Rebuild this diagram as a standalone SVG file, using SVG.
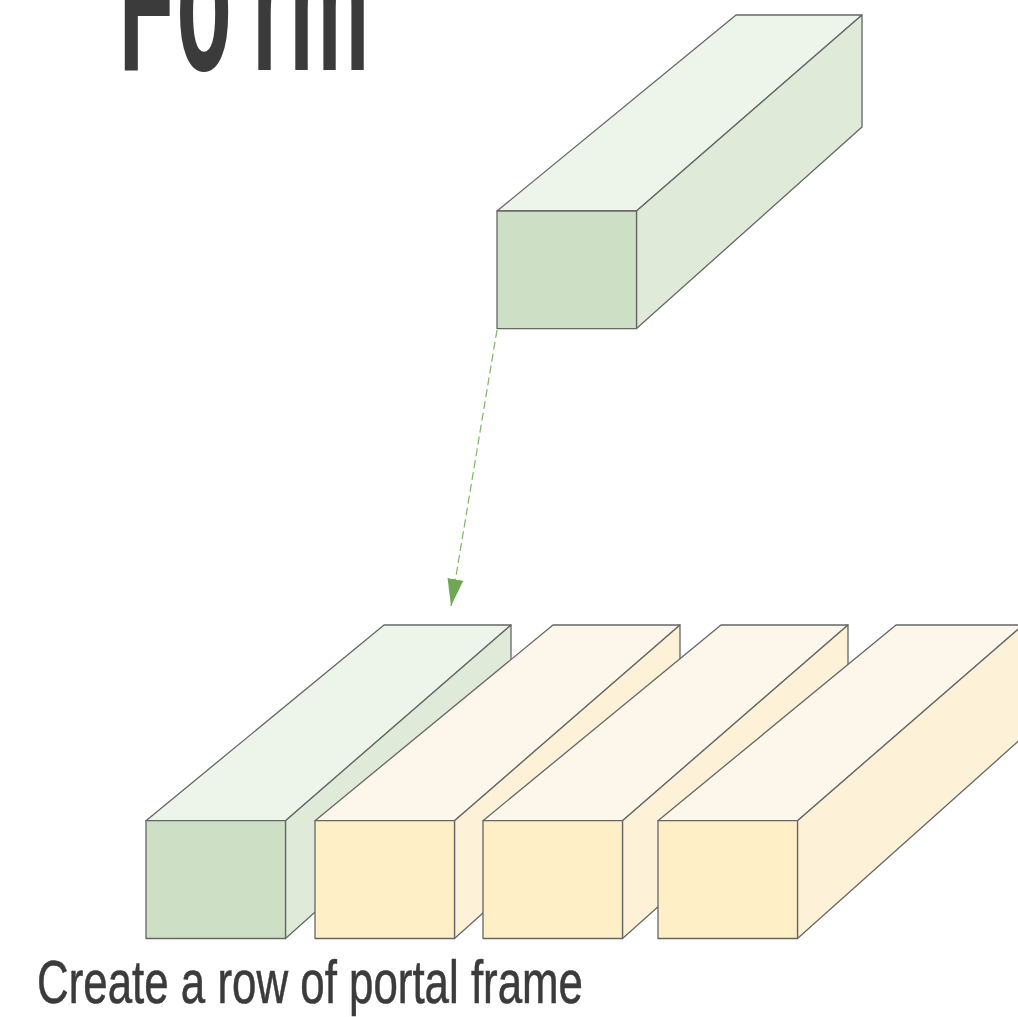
<svg xmlns="http://www.w3.org/2000/svg" width="1018" height="1017" viewBox="0 0 1018 1017">
  <style>
    .edge { stroke: #666666; stroke-width: 1.3; stroke-linejoin: round; }
    .gF { fill: #cde0c5; }
    .gR { fill: #dfebd8; }
    .gT { fill: #edf5ea; }
    .yF { fill: #ffefc7; }
    .yR { fill: #fdf2d8; }
    .yT { fill: #fdf7eb; }
    .title { font-family: "Liberation Sans", Arial, sans-serif; fill: #3b3b3b; }
    .conn { stroke: #82b366; stroke-width: 1.2; stroke-dasharray: 8 4; fill: none; }
  </style>
  <defs>
    <marker id="arrowGreen" viewBox="0 0 27 16" refX="27" refY="8" markerWidth="27" markerHeight="16" markerUnits="userSpaceOnUse" orient="auto">
      <path d="M0,0 L27,8 L0,16 Z" fill="#6fa855"/>
    </marker>
  </defs>
  <rect x="0" y="0" width="1018" height="1017" fill="#ffffff"/>

  <text class="title" transform="scale(0.42,1)" x="283 420 600 688" y="70" font-size="215" font-weight="bold">Form</text>

  <!-- Top green member -->
  <g id="member-top">
    <polygon class="gT edge" points="497,211 736,15 862,15 636.5,211"/>
    <polygon class="gR edge" points="636.5,211 862,15 862,127 636.5,328.6"/>
    <rect class="gF edge" x="497" y="211" width="139.5" height="117.6"/>
  </g>

  <!-- Bottom row -->
  <g id="frame-1">
    <polygon class="gT edge" points="146,820.7 384,625 511,625 285.5,820.7"/>
    <polygon class="gR edge" points="285.5,820.7 511,625 511,737 285.5,938.5"/>
    <rect class="gF edge" x="146" y="820.7" width="139.5" height="117.8"/>
  </g>
  <g id="frame-2">
    <polygon class="yT edge" points="315,820.7 553,625 680,625 454.5,820.7"/>
    <polygon class="yR edge" points="454.5,820.7 680,625 680,737 454.5,938.5"/>
    <rect class="yF edge" x="315" y="820.7" width="139.5" height="117.8"/>
  </g>
  <g id="frame-3">
    <polygon class="yT edge" points="483,820.7 721,625 848,625 622.5,820.7"/>
    <polygon class="yR edge" points="622.5,820.7 848,625 848,737 622.5,938.5"/>
    <rect class="yF edge" x="483" y="820.7" width="139.5" height="117.8"/>
  </g>
  <g id="frame-4">
    <polygon class="yT edge" points="658,820.7 896,625 1023,625 797.5,820.7"/>
    <polygon class="yR edge" points="797.5,820.7 1023,625 1023,737 797.5,938.5"/>
    <rect class="yF edge" x="658" y="820.7" width="139.5" height="117.8"/>
  </g>

  <g id="connectors">
    <line class="conn" x1="497" y1="330" x2="451" y2="606" marker-end="url(#arrowGreen)"/>
  </g>

  <text class="title" x="37" y="1003" font-size="62" stroke="#3b3b3b" stroke-width="0.6" textLength="546" lengthAdjust="spacingAndGlyphs">Create a row of portal frame</text>
</svg>
